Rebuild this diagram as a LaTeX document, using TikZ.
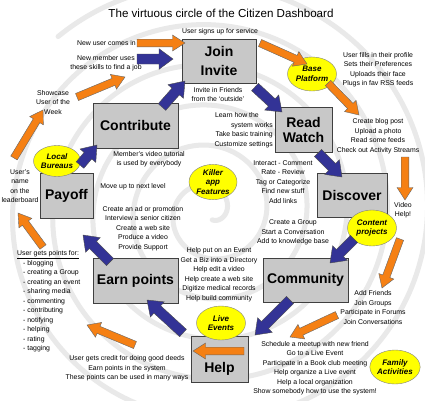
\documentclass[tikz,border=0pt]{standalone}
\usepackage{fontspec}
\setmainfont{Liberation Sans}
\usetikzlibrary{calc,shapes.geometric,shadows}
\definecolor{arrorange}{RGB}{245,128,20}
\definecolor{arrblue}{RGB}{51,51,150}
\definecolor{boxgray}{RGB}{200,200,200}
\definecolor{bubyellow}{RGB}{255,255,0}
\definecolor{spiralgray}{RGB}{233,233,233}
% block arrow: #1 style, #2 tail, #3 tip, #4 half shaft, #5 half head, #6 head length
\newcommand{\blkarrow}[6]{%
  \coordinate (tmpneck) at ($(#3)!#6!(#2)$);
  \filldraw[#1] ($(#2)!#4!90:(#3)$) -- ($(tmpneck)!#4!90:(#3)$) -- ($(tmpneck)!#5!90:(#3)$)
    -- (#3) -- ($(tmpneck)!#5!-90:(#3)$) -- ($(tmpneck)!#4!-90:(#3)$) -- ($(#2)!#4!-90:(#3)$) -- cycle;}
\newcommand{\oarr}[2]{\blkarrow{oarrow}{#1}{#2}{3.8pt}{8pt}{12.5pt}}
\newcommand{\barr}[2]{\blkarrow{barrow}{#1}{#2}{5pt}{10.3pt}{14pt}}
\begin{document}
\begin{tikzpicture}[x=1pt,y=-1pt,
  txt/.style={font=\fontsize{6.9}{9.5}\selectfont, align=center, inner sep=0pt},
  box/.style={draw=black!75, fill=boxgray, line width=0.7pt, inner sep=0pt, align=center,
    font=\fontsize{14}{18.5}\selectfont\bfseries,
    drop shadow={shadow xshift=1.3pt, shadow yshift=-1.3pt, fill=black!50, opacity=0.6}},
  bubble/.style={ellipse, draw=black!50, line width=0.4pt, fill=bubyellow, inner sep=0pt, align=center,
    font=\fontsize{8}{9.5}\selectfont\bfseries\itshape},
  oarrow/.style={fill=arrorange, draw=black!60, line width=0.4pt},
  barrow/.style={fill=arrblue, draw=black!70, line width=0.4pt}]
\useasboundingbox (0,0) rectangle (425,400);
\fill[white] (0,0) rectangle (425,400);
% background spiral
\begin{scope}
\clip (0,0) rectangle (425,400);
\draw[spiralgray, line width=5pt, line cap=round] plot[domain=0.8:35.8, samples=700, smooth, variable=\t]
  ({210+(3+6.4*\t)*cos(2280-deg(\t))}, {212+(3+6.4*\t)*sin(2280-deg(\t))});
\end{scope}

% title
\node[font=\fontsize{11.6}{13}\selectfont, inner sep=0pt] (title) at (221,13) {The virtuous circle of the Citizen Dashboard};

% boxes
\node[box, minimum width=74pt, minimum height=44pt] (join) at (219,61) {Join\\Invite};
\node[box, minimum width=57pt, minimum height=45pt, font=\fontsize{14}{15}\selectfont\bfseries] (read) at (303.5,129.5) {Read\\Watch};
\node[box, minimum width=70pt, minimum height=44pt] (discover) at (352,195) {Discover};
\node[box, minimum width=85pt, minimum height=44pt] (community) at (305.5,280) {Community};
\node[box, minimum width=57pt, minimum height=46pt] (help) at (219.5,359) {};
\node[font=\fontsize{14}{16}\selectfont\bfseries, inner sep=0pt] (helptext) at (219.5,369) {Help};
\node[box, minimum width=85pt, minimum height=45pt] (earn) at (135.5,280.5) {Earn points};
\node[box, minimum width=53pt, minimum height=45pt] (payoff) at (66.5,195.5) {Payoff};
\node[box, minimum width=85pt, minimum height=45pt] (contribute) at (135.5,125.5) {Contribute};

% ellipses
\node[bubble, minimum width=49pt, minimum height=34pt] (base) at (312,74) {Base\\Platform};
\node[bubble, minimum width=48pt, minimum height=33pt] (killer) at (213,182) {Killer\\app\\Features};
\node[bubble, minimum width=47pt, minimum height=31pt] (local) at (57,161) {Local\\Bureaus};
\node[bubble, minimum width=49pt, minimum height=36pt] (content) at (372,228) {Content\\projects};
\node[bubble, minimum width=49pt, minimum height=34pt] (live) at (221,323) {Live\\Events};
\node[bubble, minimum width=49pt, minimum height=34pt] (family) at (395,367) {Family\\Activities};

% texts
\node[txt] (signup) at (220,32) {User signs up for service};
\node[txt, anchor=east] (newuser) at (136,43) {New user comes in};
\node[txt] (newmember) at (106,63) {New member uses\\these skills to find a job};
\node[txt] (showcase) at (53,102.5) {Showcase\\User of the\\Week};
\node[txt] (usersname) at (20,186) {User's\\name\\on the\\leaderboard};
\node[txt, align=left, anchor=west] (points) at (17,301.5) {\underline{User gets points for:}\\
  \hspace*{6pt}- blogging\\ \hspace*{6pt}- creating a Group\\ \hspace*{6pt}- creating an event\\
  \hspace*{6pt}- sharing media\\ \hspace*{6pt}- commenting\\ \hspace*{6pt}- contributing\\
  \hspace*{6pt}- notifying\\ \hspace*{6pt}- helping\\ \hspace*{6pt}- rating\\ \hspace*{6pt}- tagging};
\node[txt] (invitefr) at (218,94.5) {Invite in Friends\\from the `outside'};
\node[txt, align=right, anchor=east] (learn) at (273,130) {Learn how the\hspace*{14pt}\\system works\\Take basic training\\Customize settings};
\node[txt] (profile) at (378,69.5) {User fills in their profile\\Sets their Preferences\\Uploads their face\\Plugs in fav RSS feeds};
\node[txt] (blog) at (378,136) {Create blog post\\Upload a photo\\Read some feeds\\Check out Activity Streams};
\node[txt] (videohelp) at (403,210) {Video\\Help!};
\node[txt] (interact) at (283,182) {Interact - Comment\\Rate - Review\\Tag or Categorize\\Find new stuff\\Add links};
\node[txt] (creategroup) at (293,232.5) {Create a Group\\Start a Conversation\\Add to knowledge base};
\node[txt] (addfriends) at (373,307.5) {Add Friends\\Join Groups\\Participate in Forums\\Join Conversations};
\node[txt] (schedule) at (315,368) {Schedule a meetup with new friend\\Go to a Live Event\\Participate in a Book club meeting\\Help organize a Live event\\Help a local organization\\Show somebody how to use the system!};
\node[txt] (helpput) at (219,274.5) {Help put on an Event\\Get a Biz into a Directory\\Help edit a video\\Help create a web site\\Digitize medical records\\Help build community};
\node[txt] (credit) at (127,368.5) {User gets credit for doing good deeds\\Earn points in the system\\These points can be used in many ways};
\node[txt] (member) at (149,159) {Member's video tutorial\\is used by everybody};
\node[txt] (moveup) at (133,187) {Move up to next level};
\node[txt] (createad) at (143,228.5) {Create an ad or promotion\\Interview a senior citizen\\Create a web site\\Produce a video\\Provide Support};

% arrow end points
\coordinate (o1s) at (137,43);  \coordinate (o1e) at (185,43);
\coordinate (o2s) at (77,97);   \coordinate (o2e) at (125,77);
\coordinate (o3s) at (14,158);  \coordinate (o3e) at (43,110);
\coordinate (o4s) at (43,247);  \coordinate (o4e) at (18,213);
\coordinate (o5s) at (260,43);  \coordinate (o5e) at (307,64);
\coordinate (o6s) at (328,83);  \coordinate (o6e) at (359,115);
\coordinate (o7s) at (405,157); \coordinate (o7e) at (405,200);
\coordinate (o8s) at (400,239); \coordinate (o8e) at (382,288);
\coordinate (o9s) at (337,315); \coordinate (o9e) at (290,337);
\coordinate (o10s) at (244,351); \coordinate (o10e) at (193,351);
\coordinate (o11s) at (135,345); \coordinate (o11e) at (87,325);
\coordinate (b1s) at (137,59);  \coordinate (b1e) at (173,59);
\coordinate (b2s) at (162,107); \coordinate (b2e) at (185,81);
\coordinate (b3s) at (255,87);  \coordinate (b3e) at (282,112);
\coordinate (b4s) at (318,153); \coordinate (b4e) at (342,177);
\coordinate (b5s) at (354,239); \coordinate (b5e) at (330,263);
\coordinate (b6s) at (290,300); \coordinate (b6e) at (255,335);
\coordinate (b7s) at (183,333); \coordinate (b7e) at (147,300);
\coordinate (b8s) at (110,262); \coordinate (b8e) at (83,235);
\coordinate (b9s) at (80,165);  \coordinate (b9e) at (97,145);

% arrows
\oarr{o1s}{o1e} \oarr{o2s}{o2e} \oarr{o3s}{o3e} \oarr{o4s}{o4e}
\oarr{o5s}{o5e} \oarr{o6s}{o6e} \oarr{o7s}{o7e} \oarr{o8s}{o8e}
\oarr{o9s}{o9e} \oarr{o10s}{o10e} \oarr{o11s}{o11e}
\barr{b1s}{b1e} \barr{b2s}{b2e} \barr{b3s}{b3e} \barr{b4s}{b4e}
\barr{b5s}{b5e} \barr{b6s}{b6e} \barr{b7s}{b7e} \barr{b8s}{b8e}
\barr{b9s}{b9e}
\end{tikzpicture}
\end{document}
